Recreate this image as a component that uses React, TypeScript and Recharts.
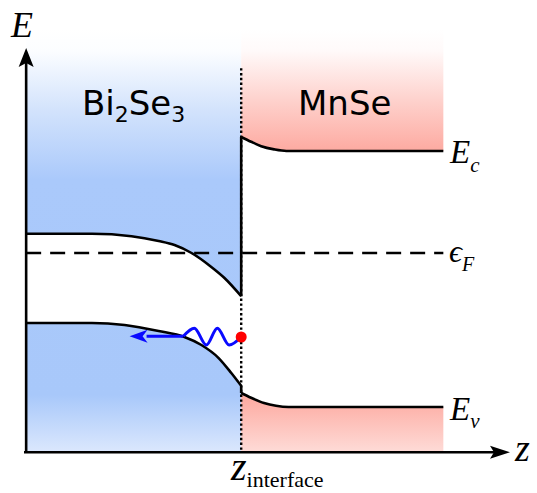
import { Area, ComposedChart, Line, Scatter, XAxis, YAxis } from "recharts";

// energies in eV relative to the Fermi level, z in nm (interface at z = 10)
const TOP = 2.8;
const AXIS_E = -2.49;

const biCbZ = [0, 3.06, 4.9, 6.16, 6.9, 7.69, 8.61, 9.21, 10];
const biCbE = [0.24, 0.24, 0.21, 0.15, 0.1, 0, -0.175, -0.31, -0.54];

const biVbZ = [0, 3.06, 4.58, 6.16, 7.36, 8.15, 8.94, 9.54, 10];
const biVbE = [-0.875, -0.875, -0.9, -0.975, -1.05, -1.15, -1.31, -1.5, -1.66];

const mnCbZ = [10, 10.46, 10.93, 11.53, 12.1, 19.4];
const mnCbE = [1.45, 1.39, 1.335, 1.295, 1.275, 1.275];

const mnVbZ = [10, 10.46, 11.06, 11.62, 12.2, 19.4];
const mnVbE = [-1.75, -1.81, -1.875, -1.91, -1.925, -1.925];

const waveZ = [7.31, 7.82, 8.38, 8.89, 9.44, 10];
const waveE = [-1.04, -0.94, -1.15, -0.94, -1.15, -1.05];

const fermiZ = [0, 19.4];
const interfaceZ = 10;
const dottedTop = 2.31;
const arrowShaftZ = [5.6, 7.31];
const arrowTipZ = 4.81;
const holeE = -1.05;

const pts = (zs: number[], es: number[]) => zs.map((z, i) => ({ z, e: es[i] }));
const band = (zs: number[], lo: number[] | number, hi: number[] | number) =>
  zs.map((z, i) => ({
    z,
    band: [Array.isArray(lo) ? lo[i] : lo, Array.isArray(hi) ? hi[i] : hi],
  }));

const W = 537;
const H = 493;

const math = "'Liberation Serif', 'DejaVu Serif', serif";
const sans = "'DejaVu Sans', sans-serif";

function Curve({ data, color = "#000", width = 2.6, dash, curve = "monotone" }: any) {
  return (
    <Line
      data={data}
      dataKey="e"
      type={curve}
      stroke={color}
      strokeWidth={width}
      strokeDasharray={dash}
      dot={false}
      activeDot={false}
      isAnimationActive={false}
      legendType="none"
    />
  );
}

export default function App() {
  return (
    <div style={{ position: "absolute", left: 0, top: 0, width: W, height: H, background: "#fff" }}>
      <ComposedChart width={W} height={H} margin={{ top: 29, right: 27, bottom: 40, left: 24 }}>
        <XAxis type="number" dataKey="z" domain={[0, 22.5]} hide />
        <YAxis type="number" domain={[-2.5, TOP]} hide />

        <Area data={band(biCbZ, biCbE, TOP)} dataKey="band" type="monotone" stroke="none" fill="url(#blueFade)" fillOpacity={1} isAnimationActive={false} activeDot={false} />
        <Area data={band(biVbZ, AXIS_E, biVbE)} dataKey="band" type="monotone" stroke="none" fill="url(#blueFade)" fillOpacity={1} isAnimationActive={false} activeDot={false} />
        <Area data={band(mnCbZ, mnCbE, TOP)} dataKey="band" type="monotone" stroke="none" fill="url(#redFade)" fillOpacity={1} isAnimationActive={false} activeDot={false} />
        <Area data={band(mnVbZ, AXIS_E, mnVbE)} dataKey="band" type="monotone" stroke="none" fill="url(#redFade)" fillOpacity={1} isAnimationActive={false} activeDot={false} />

        {Curve({ data: pts(fermiZ, [0, 0]), width: 2.6, dash: "15 9", curve: "linear" })}
        {Curve({ data: pts([interfaceZ, interfaceZ], [dottedTop, AXIS_E]), width: 2.4, dash: "2.4 2.4", curve: "linear" })}

        {Curve({ data: pts(biCbZ, biCbE) })}
        {Curve({ data: pts(biVbZ, biVbE) })}
        {Curve({ data: pts(mnCbZ, mnCbE) })}
        {Curve({ data: pts(mnVbZ, mnVbE) })}
        {Curve({ data: pts([interfaceZ, interfaceZ], [mnCbE[0], biCbE[biCbE.length - 1]]), curve: "linear" })}
        {Curve({ data: pts([interfaceZ, interfaceZ], [biVbE[biVbE.length - 1], mnVbE[0]]), curve: "linear" })}

        {Curve({ data: pts([0, 0], [AXIS_E, 2.5]), curve: "linear" })}
        {Curve({ data: pts([-0.1, 22.2], [AXIS_E, AXIS_E]), curve: "linear" })}

        {Curve({ data: pts(waveZ, waveE), color: "#0a0aff", width: 3 })}
        {Curve({ data: pts(arrowShaftZ, [-1.04, -1.04]), color: "#0a0aff", width: 3, curve: "linear" })}

        <Scatter
          data={pts([0], [2.5625])}
          dataKey="e"
          isAnimationActive={false}
          shape={(p: any) => (
            <path d={`M${p.cx},${p.cy} L${p.cx + 7.5},${p.cy + 19} L${p.cx},${p.cy + 15} L${p.cx - 7.5},${p.cy + 19} Z`} fill="#000" />
          )}
        />
        <Scatter
          data={pts([22.5], [AXIS_E])}
          dataKey="e"
          isAnimationActive={false}
          shape={(p: any) => (
            <path d={`M${p.cx},${p.cy} L${p.cx - 20},${p.cy - 6.5} L${p.cx - 16},${p.cy} L${p.cx - 20},${p.cy + 6.5} Z`} fill="#000" />
          )}
        />
        <Scatter
          data={pts([arrowTipZ], [-1.04])}
          dataKey="e"
          isAnimationActive={false}
          shape={(p: any) => (
            <path d={`M${p.cx},${p.cy} L${p.cx + 18},${p.cy - 6.5} L${p.cx + 13},${p.cy} L${p.cx + 18},${p.cy + 6.5} Z`} fill="#0a0aff" />
          )}
        />
        <Scatter
          data={pts([interfaceZ], [holeE])}
          dataKey="e"
          isAnimationActive={false}
          shape={(p: any) => <circle cx={p.cx} cy={p.cy} r={5.5} fill="#ff0000" />}
        />
      </ComposedChart>

      <svg width={W} height={H} style={{ position: "absolute", left: 0, top: 0, pointerEvents: "none" }}>
        <defs>
          <linearGradient id="blueFade" gradientUnits="userSpaceOnUse" x1={0} y1={29} x2={0} y2={453}>
            <stop offset="0" stopColor="#ffffff" />
            <stop offset="0.054" stopColor="#fbfdff" />
            <stop offset="0.19" stopColor="#d3e3fc" />
            <stop offset="0.356" stopColor="#aac9fb" />
            <stop offset="0.863" stopColor="#a8c8fa" />
            <stop offset="1" stopColor="#dce8fd" />
          </linearGradient>
          <linearGradient id="redFade" gradientUnits="userSpaceOnUse" x1={0} y1={29} x2={0} y2={453}>
            <stop offset="0" stopColor="#ffffff" />
            <stop offset="0.05" stopColor="#fffafa" />
            <stop offset="0.167" stopColor="#fed2cd" />
            <stop offset="0.285" stopColor="#fdaba2" />
            <stop offset="0.875" stopColor="#fdada4" />
            <stop offset="1" stopColor="#fedcd8" />
          </linearGradient>
        </defs>

        <text x={11} y={37} fontFamily={math} fontStyle="italic" fontSize={36}>E</text>
        <text x={515} y={461} fontFamily={math} fontStyle="italic" fontSize={38}>z</text>

        <text x={82} y={115} fontFamily={sans} fontSize={34}>
          Bi<tspan fontSize={22} dy={7}>2</tspan>
          <tspan dy={-7}>Se</tspan>
          <tspan fontSize={22} dy={7}>3</tspan>
        </text>
        <text x={298} y={115} fontFamily={sans} fontSize={34}>MnSe</text>

        <text x={450} y={163} fontFamily={math} fontStyle="italic" fontSize={33}>
          E<tspan fontSize={21} dy={9}>c</tspan>
        </text>
        <text x={449} y={262} fontFamily={math} fontStyle="italic" fontSize={32}>
          ϵ<tspan fontSize={20} dy={9}>F</tspan>
        </text>
        <text x={450} y={420} fontFamily={math} fontStyle="italic" fontSize={33}>
          E<tspan fontSize={21} dy={8}>v</tspan>
        </text>

        <text x={231} y={480} fontFamily={math} fontSize={40}>
          <tspan fontStyle="italic">z</tspan>
          <tspan fontSize={22} dy={7}>interface</tspan>
        </text>
      </svg>
    </div>
  );
}
